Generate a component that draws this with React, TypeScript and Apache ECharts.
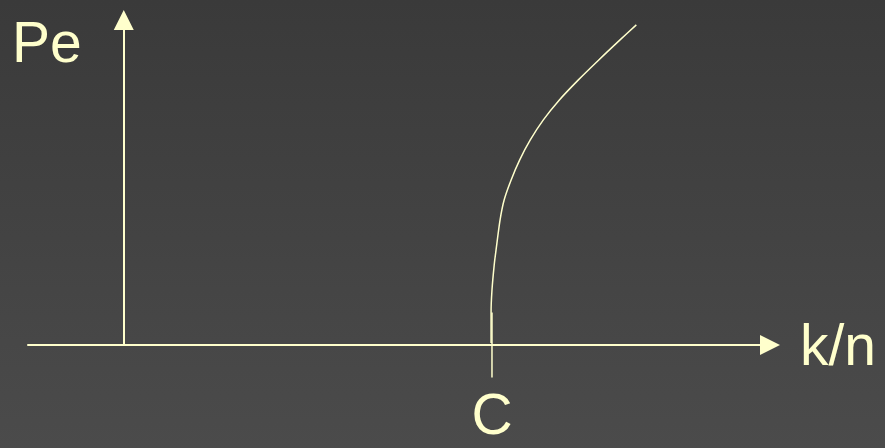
import React, { useEffect, useRef } from "react";
import * as echarts from "echarts";

// ---- data ----
const xName = "k/n";
const yName = "Pe";
const criticalLabel = "C";
const criticalValue = 10;
const xRange = [-2.6, 17.55];
const yRange = [0, 10];
// curve Pe(k/n) rising from the critical point C
const curveK = [9.975, 9.975, 10.0, 10.06, 10.11, 10.22, 10.33, 10.52, 10.75, 11.04, 11.39, 11.83, 12.34, 12.9, 13.47, 13.92];
const curvePe = [0.06, 0.98, 1.69, 2.46, 2.92, 3.85, 4.46, 5.08, 5.69, 6.31, 6.92, 7.54, 8.15, 8.77, 9.38, 9.85];
// vertical marker through C
const markerPe = [-1.0, 1.0];

const CREAM = "#ffffcc";
const FONT = "Liberation Sans";
const FONT_SIZE = 57;

export default function App() {
  const ref = useRef<HTMLDivElement>(null);

  useEffect(() => {
    if (!ref.current) return;
    const chart = echarts.init(ref.current, undefined, { renderer: "svg" });
    const curve = curveK.map((k, i) => [k, curvePe[i]]);
    const marker = markerPe.map((p) => [criticalValue, p]);

    chart.setOption({
      animation: false,
      textStyle: { fontFamily: FONT },
      backgroundColor: new echarts.graphic.LinearGradient(0, 0, 0, 1, [
        { offset: 0, color: "#3a3a3a" },
        { offset: 1, color: "#4b4b4b" },
      ]),
      grid: { left: 28, right: 115, top: 20, bottom: 103, outerBoundsMode: "none", containLabel: false },
      xAxis: {
        type: "value",
        min: xRange[0],
        max: xRange[1],
        name: xName,
        nameLocation: "end",
        nameGap: 30,
        nameTextStyle: {
          color: CREAM,
          fontSize: FONT_SIZE,
          fontFamily: FONT,
          verticalAlign: "middle",
          padding: [0, 0, 30, 0],
        },
        axisLine: {
          onZero: true,
          symbol: ["none", "triangle"],
          symbolSize: [20, 20],
          lineStyle: { color: CREAM, width: 2 },
        },
        axisTick: { show: false },
        axisLabel: {
          customValues: [criticalValue],
          formatter: () => criticalLabel,
          color: CREAM,
          fontSize: FONT_SIZE,
          fontFamily: FONT,
          lineHeight: 57,
          margin: 40,
        },
        splitLine: { show: false },
      },
      yAxis: {
        type: "value",
        min: yRange[0],
        max: yRange[1],
        name: yName,
        nameLocation: "end",
        nameGap: -22,
        nameTextStyle: {
          color: CREAM,
          fontSize: FONT_SIZE,
          fontFamily: FONT,
          align: "right",
          verticalAlign: "middle",
          padding: [0, 42, 0, 0],
        },
        axisLine: {
          onZero: true,
          symbol: ["none", "triangle"],
          symbolSize: [20, 20],
          lineStyle: { color: CREAM, width: 2 },
        },
        axisTick: { show: false },
        axisLabel: { show: false },
        splitLine: { show: false },
      },
      series: [
        {
          type: "line",
          data: curve,
          smooth: 0.3,
          showSymbol: false,
          lineStyle: { color: CREAM, width: 1.5 },
          z: 3,
        },
        {
          type: "line",
          data: marker,
          clip: false,
          showSymbol: false,
          lineStyle: { color: CREAM, width: 1.5 },
          z: 3,
        },
      ],
    });

    return () => chart.dispose();
  }, []);

  return (
    <div
      ref={ref}
      style={{ position: "fixed", left: 0, top: 0, width: 885, height: 448 }}
    />
  );
}
